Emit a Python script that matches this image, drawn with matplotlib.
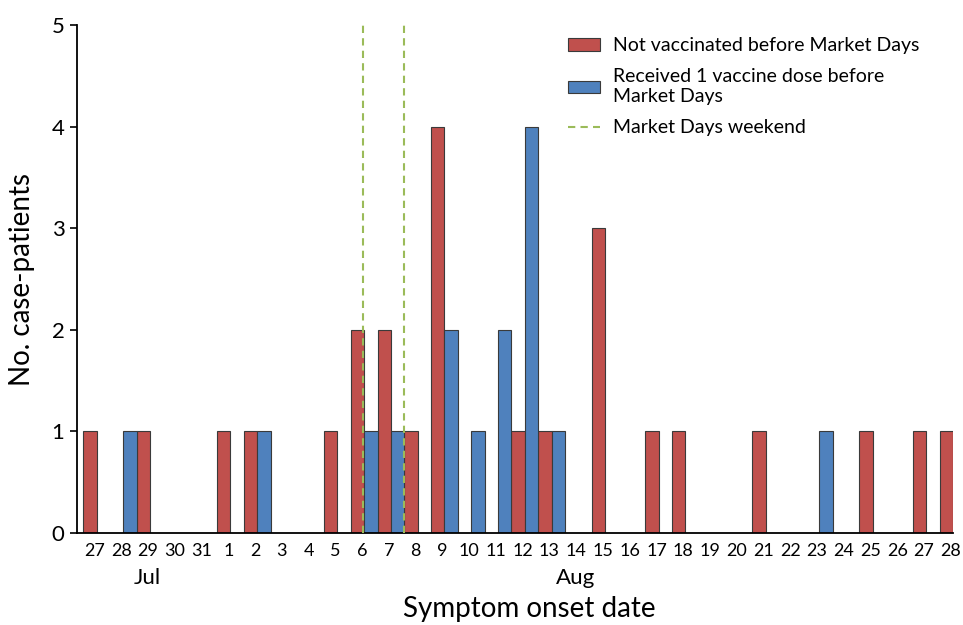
import matplotlib
matplotlib.use("Agg")
import matplotlib.pyplot as plt
import numpy as np

plt.rcParams['font.family'] = ['Lato', 'DejaVu Sans']

days = ["27", "28", "29", "30", "31", "1", "2", "3", "4", "5", "6", "7", "8", "9", "10",
        "11", "12", "13", "14", "15", "16", "17", "18", "19", "20", "21", "22", "23",
        "24", "25", "26", "27", "28"]
not_vacc = [1, 0, 1, 0, 0, 1, 1, 0, 0, 1, 2, 2, 1, 4, 0,
            0, 1, 1, 0, 3, 0, 1, 1, 0, 0, 1, 0, 0,
            0, 1, 0, 1, 1]
one_dose = [0, 1, 0, 0, 0, 0, 1, 0, 0, 0, 1, 1, 0, 2, 1,
            2, 4, 1, 0, 0, 0, 0, 0, 0, 0, 0, 0, 1,
            0, 0, 0, 0, 0]
months = ["Jul", "Aug"]
month_pos = [2, 18]
market_days = [10, 11]  # indices of 6 and 7 Aug

red = "#C0504D"
blue = "#4F81BD"
green = "#9BBB59"
edge = "#3a3a3a"

fig = plt.figure(figsize=(9.63, 6.25), dpi=100)
ax = fig.add_axes([0.080, 0.1472, 0.9096, 0.8128])

x = np.arange(len(days))
w = 0.5
b1 = ax.bar(x - w / 2, not_vacc, width=w, color=red, edgecolor=edge, linewidth=0.8,
            label="Not vaccinated before Market Days", zorder=2)
b2 = ax.bar(x + w / 2, one_dose, width=w, color=blue, edgecolor=edge, linewidth=0.8,
            label="Received 1 vaccine dose before\nMarket Days", zorder=2)
l1 = ax.axvline(market_days[0] - 0.05, color=green, linestyle=(0, (3.5, 2.5)), linewidth=1.5,
                label="Market Days weekend", zorder=3)
ax.axvline(market_days[1] + 0.48, color=green, linestyle=(0, (3.5, 2.5)), linewidth=1.5, zorder=3)

ax.set_xlim(-0.73, 32.0)
ax.set_ylim(0, 5)
ax.set_yticks(range(6))
ax.set_xticks(x - 0.08)
ax.set_xticklabels(days, fontsize=13)
ax.tick_params(axis='x', length=0, pad=7)
ax.tick_params(axis='y', labelsize=16, length=5, width=1.2, direction='out', pad=4)
for s in ["top", "right"]:
    ax.spines[s].set_visible(False)
for s in ["left", "bottom"]:
    ax.spines[s].set_linewidth(1.3)
    ax.spines[s].set_color("black")

trans = ax.get_xaxis_transform()
for m, p in zip(months, month_pos):
    ax.text(p - 0.1, -0.088, m, transform=trans, ha="center", va="center", fontsize=16)

ax.set_xlabel("Symptom onset date", fontsize=20)
ax.xaxis.set_label_coords(0.516, -0.125)
ax.set_ylabel("No. case-patients", fontsize=20)
ax.yaxis.set_label_coords(-0.048, 0.5)

leg = ax.legend(handles=[b1, b2, l1], loc="upper left", bbox_to_anchor=(0.541, 1.01),
                frameon=False, fontsize=14, handlelength=1.6, handleheight=0.6,
                labelspacing=0.72, handletextpad=0.7)

fig.savefig("out.png", dpi=100)
